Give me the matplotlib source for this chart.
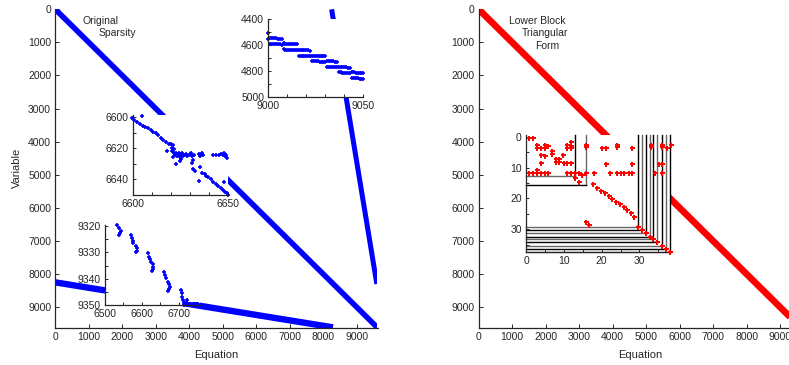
import matplotlib
matplotlib.use('Agg')
import matplotlib.pyplot as plt

plt.rcParams['font.family'] = ['Liberation Sans', 'DejaVu Sans']
TXT = '#262626'
plt.rcParams['text.color'] = TXT
plt.rcParams['axes.edgecolor'] = TXT
plt.rcParams['xtick.color'] = TXT
plt.rcParams['ytick.color'] = TXT

# ---------------- data ----------------
n_max = 9620
main_ticks = [0, 1000, 2000, 3000, 4000, 5000, 6000, 7000, 8000, 9000]

# Original sparsity: dense bands (start/end in equation, variable)
orig_x0 = [0, 0, 8250]
orig_y0 = [0, 8250, 0]
orig_x1 = [9610, 8290, 9600]
orig_y1 = [9610, 9610, 8300]
orig_lw = [4.0, 4.6, 3.6]

# Lower block triangular form band
lbt_x0 = [0]
lbt_y0 = [0]
lbt_x1 = [9620]
lbt_y1 = [9620]

# inset: equations 9000-9050, variables 4400-5000
tr_x = [9000, 9000,
        9001, 9002, 9003, 9004, 9005, 9006, 9007,
        9001, 9002, 9003, 9004, 9005, 9006, 9007,
        9008, 9009, 9010, 9011, 9012, 9013, 9014, 9015,
        9008, 9009, 9010, 9011, 9012, 9013, 9014, 9015,
        9016, 9017, 9018, 9019, 9020, 9021, 9022,
        9016, 9017, 9018, 9019, 9020, 9021, 9022,
        9023, 9024, 9025, 9026, 9027, 9028, 9029, 9030,
        9023, 9024, 9025, 9026, 9027, 9028, 9029, 9030,
        9031, 9032, 9033, 9034, 9035, 9036,
        9031, 9032, 9033, 9034, 9035, 9036,
        9037, 9038, 9039, 9040, 9041, 9042, 9043,
        9037, 9038, 9039, 9040, 9041, 9042, 9043,
        9044, 9045, 9046, 9047, 9048, 9049, 9050,
        9044, 9045, 9046, 9047, 9048, 9049, 9050]
tr_y = [4512, 4558,
        4548, 4549, 4550, 4551, 4553, 4554, 4555,
        4592, 4593, 4594, 4595, 4597, 4598, 4599,
        4590, 4591, 4592, 4594, 4595, 4596, 4597, 4598,
        4636, 4637, 4638, 4640, 4641, 4642, 4643, 4644,
        4638, 4639, 4640, 4641, 4642, 4643, 4645,
        4684, 4685, 4686, 4687, 4688, 4689, 4690,
        4684, 4685, 4686, 4686, 4687, 4688, 4689, 4690,
        4726, 4727, 4728, 4729, 4730, 4731, 4732, 4733,
        4726, 4727, 4728, 4729, 4730, 4731,
        4770, 4771, 4772, 4773, 4774, 4775,
        4770, 4771, 4772, 4773, 4774, 4776, 4777,
        4812, 4813, 4814, 4815, 4816, 4818, 4819,
        4812, 4813, 4814, 4815, 4816, 4817, 4818,
        4856, 4857, 4858, 4859, 4860, 4861, 4862]

# inset: equations 6600-6650, variables 6600-6650
mid_x = [6599.5, 6600.7, 6602.1, 6603.8, 6605.2, 6606.4, 6608.1, 6609.4, 6610.7,
         6612.1, 6613.3, 6615.0, 6615.9, 6617.3, 6619.0, 6620.2, 6621.1,
         6604.7, 6620.5, 6621.5, 6620.8, 6621.8, 6622.0, 6621.0, 6618.1,
         6622.5, 6623.0, 6623.5, 6624.0, 6624.5, 6625.0, 6626.0, 6626.5, 6627.0,
         6628.0, 6628.5, 6629.5, 6630.5, 6631.0, 6632.0,
         6634.5, 6635.0, 6635.5, 6636.5, 6637.0,
         6642.0, 6643.5, 6645.0, 6646.0, 6647.0, 6648.0, 6648.5, 6649.0, 6649.5,
         6622.6, 6624.5, 6625.5, 6630.8, 6631.5,
         6631.7, 6632.6, 6635.2, 6636.1, 6637.8, 6638.3, 6639.6, 6640.8, 6642.2,
         6643.6, 6644.8, 6646.0, 6647.1, 6648.3, 6649.2, 6650.0,
         6634.7, 6647.8]
mid_y = [6600.7, 6601.8, 6602.8, 6604.3, 6605.4, 6606.0, 6607.1, 6608.2, 6609.3,
         6610.3, 6611.4, 6613.5, 6614.6, 6615.7, 6617.2, 6617.4, 6617.9,
         6599.0, 6619.5, 6620.5, 6622.0, 6623.0, 6624.5, 6625.5, 6621.5,
         6623.0, 6625.0, 6624.0, 6623.0, 6625.5, 6624.0, 6623.0, 6625.0, 6624.0,
         6623.5, 6625.0, 6624.0, 6623.0, 6625.0, 6624.0,
         6623.5, 6625.0, 6624.0, 6623.0, 6624.5,
         6624.0, 6624.0, 6624.0, 6623.5, 6624.0, 6623.0, 6625.0, 6624.0, 6626.0,
         6630.1, 6628.5, 6627.0, 6629.3, 6627.5,
         6633.4, 6634.4, 6631.9, 6635.7, 6636.6, 6637.9, 6638.7, 6640.0, 6641.5,
         6643.0, 6644.3, 6645.8, 6646.9, 6648.0, 6649.0, 6650.0,
         6641.1, 6641.5]

# inset: equations 6500-6750, variables 9320-9350
bl_x = [6532.7, 6539.8, 6543.4, 6541.6, 6538.9,
        6571.1, 6573.0, 6575.6, 6577.4, 6584.6, 6588.2, 6586.4, 6583.7,
        6616.0, 6619.5, 6622.1, 6624.8, 6629.4, 6631.0, 6629.4, 6627.5,
        6660.6, 6663.3, 6666.0, 6669.6, 6674.0, 6675.8, 6674.0, 6671.3,
        6705.4, 6707.2, 6709.0, 6711.7, 6720.7, 6722.3,
        6712, 6715, 6718, 6721, 6724, 6727, 6730, 6733, 6736, 6739, 6742, 6745, 6748, 6751, 6754,
        6714, 6720, 6726, 6732, 6738, 6744, 6750]
bl_y = [9319.6, 9320.9, 9321.8, 9322.8, 9323.3,
        9323.4, 9324.7, 9325.6, 9326.3, 9327.6, 9328.5, 9329.4, 9330.0,
        9330.4, 9331.7, 9332.7, 9333.6, 9334.4, 9335.5, 9336.5, 9337.1,
        9337.4, 9338.6, 9339.9, 9341.2, 9342.1, 9343.1, 9344.0, 9344.6,
        9344.3, 9345.6, 9346.9, 9348.1, 9348.1, 9349.2,
        9349.4, 9349.4, 9349.5, 9349.5, 9349.5, 9349.6, 9349.6, 9349.6, 9349.7, 9349.7, 9349.7, 9349.8, 9349.8, 9349.8, 9349.9,
        9349.9, 9349.9, 9350.0, 9350.0, 9350.0, 9350.1, 9350.1]

# inset of block triangular form (38 x 38 matrix)
blk_x = [0.9, 1.9, 2.8, 2.8, 3.9, 5.0, 5.0, 5.9, 3.9, 5.0, 6.8, 6.8,
         8.0, 8.0, 8.7, 8.7, 9.8, 3.9, 10.9, 10.9, 11.8, 11.8, 11.8,
         10.1, 10.9, 11.8, 2.8,
         0.9, 1.9, 2.8, 3.9, 5.0, 5.9, 10.8, 11.8, 12.9, 14.0, 15.9, 17.9,
         22.2, 24.0, 25.0, 26.0, 27.2, 28.1, 34.1, 36.1,
         12.9, 14.0, 14.9, 15.9, 15.9,
         20.2, 21.2, 24.0, 24.0, 28.0, 21.2, 28.0, 33.1, 33.1, 36.1, 36.1,
         37.2, 38.3, 35.1, 36.1,
         17.8, 18.9, 19.9, 20.8, 21.9, 22.7, 23.8, 24.8, 25.8, 26.7, 27.7, 28.6,
         15.9, 16.6,
         29.7, 30.8, 31.7, 32.7, 33.7, 34.7, 35.9, 36.9, 38.0]
blk_y = [0.3, 0.3, 2.5, 3.6, 3.6, 2.5, 3.6, 3.0, 5.8, 6.3, 4.7, 5.5,
         7.2, 8.3, 7.2, 8.3, 5.8, 8.5, 2.5, 3.6, 1.7, 2.8, 3.6,
         8.5, 8.5, 8.5, 10.7,
         11.6, 11.6, 11.6, 11.6, 11.6, 11.6, 11.6, 11.6, 11.6, 11.6, 11.6, 11.6,
         11.6, 11.6, 11.6, 11.6, 11.6, 11.6, 11.6, 11.6,
         13.5, 14.6, 12.3, 2.5, 3.3,
         3.6, 3.6, 2.6, 3.4, 3.6, 8.7, 8.7, 2.6, 3.4, 2.6, 3.4,
         3.6, 2.6, 8.7, 8.7,
         15.3, 16.5, 17.5, 18.3, 19.2, 20.1, 21.0, 21.9, 22.8, 23.7, 24.8, 25.9,
         27.8, 28.5,
         29.3, 30.4, 31.3, 32.4, 33.3, 34.2, 35.3, 36.5, 37.5]
# block boundary corners (column, row)
corner_x = [12.9, 16.0, 29.7, 30.8, 31.7, 32.7, 33.7, 34.7, 35.9, 36.9, 38.0]
corner_y = [12.6, 15.6, 29.3, 30.4, 31.3, 32.4, 33.3, 34.2, 35.3, 36.5, 37.5]

# ---------------- figure ----------------
W, H = 789, 365
fig = plt.figure(figsize=(W / 100, H / 100), dpi=100)


def px_axes(l, t, r, b):
    return fig.add_axes([l / W, 1 - b / H, (r - l) / W, (b - t) / H])


def style(ax, fs=7.5, tl=2.5):
    for s in ['top', 'right']:
        ax.spines[s].set_visible(False)
    for s in ['left', 'bottom']:
        ax.spines[s].set_linewidth(0.9)
    ax.tick_params(direction='in', length=tl, width=0.7, labelsize=fs, pad=3)


def set_ticks(ax, axis, ticks, labeled):
    labs = [str(t) if t in labeled else '' for t in ticks]
    if axis == 'x':
        ax.set_xticks(ticks)
        ax.set_xticklabels(labs)
    else:
        ax.set_yticks(ticks)
        ax.set_yticklabels(labs)


# main axes
axL = px_axes(55.3, 9.3, 55.3 + 322.2, 9.3 + 318.4)
axR = px_axes(478.7, 9.3, 478.7 + 322.2, 9.3 + 318.4)
for ax in (axL, axR):
    style(ax, tl=3)
    ax.set_xlim(0, n_max)
    ax.set_ylim(n_max, 0)
    ax.set_xticks(main_ticks)
    ax.set_yticks(main_ticks)

for i in range(len(orig_x0)):
    axL.plot([orig_x0[i], orig_x1[i]], [orig_y0[i], orig_y1[i]], color='#0000ff',
             lw=orig_lw[i], solid_capstyle='butt')
for i in range(len(lbt_x0)):
    axR.plot([lbt_x0[i], lbt_x1[i]], [lbt_y0[i], lbt_y1[i]], color='#ff0000',
             lw=4.8, solid_capstyle='butt')

# insets
mk = dict(marker='+', ls='none', ms=2.8, mew=1.2, clip_on=False)

ax1 = px_axes(268.3, 18.7, 363.3, 96.7)
style(ax1)
ax1.plot(tr_x, tr_y, color='#0000ff', **mk)
ax1.set_xlim(9000, 9050)
ax1.set_ylim(5000, 4400)
set_ticks(ax1, 'x', [9000, 9010, 9020, 9030, 9040, 9050], [9000, 9050])
set_ticks(ax1, 'y', [4400, 4500, 4600, 4700, 4800, 4900, 5000], [4400, 4600, 4800, 5000])

ax2 = px_axes(132.7, 115.0, 228.3, 194.8)
style(ax2)
ax2.plot(mid_x, mid_y, color='#0000ff', **mk)
ax2.set_xlim(6600, 6650)
ax2.set_ylim(6650, 6598.5)
set_ticks(ax2, 'x', [6600, 6610, 6620, 6630, 6640, 6650], [6600, 6650])
set_ticks(ax2, 'y', [6600, 6610, 6620, 6630, 6640, 6650], [6600, 6620, 6640])

ax3 = px_axes(104.5, 225.0, 200.0, 305.0)
style(ax3)
ax3.plot(bl_x, bl_y, color='#0000ff', **mk)
ax3.set_xlim(6500, 6756)
ax3.set_ylim(9350, 9319.6)
set_ticks(ax3, 'x', [6500, 6550, 6600, 6650, 6700, 6750], [6500, 6600, 6700])
set_ticks(ax3, 'y', [9320, 9325, 9330, 9335, 9340, 9345, 9350], [9320, 9330, 9340, 9350])

ax4 = px_axes(526.0, 134.8, 670.8, 252.3)
style(ax4)
ax4.set_xlim(0, 38.3)
ax4.set_ylim(37.5, -0.7)
for i in range(len(corner_x)):
    cv = 'black' if i % 2 == 0 else '#666666'
    ch = '#666666' if i % 2 == 0 else 'black'
    ax4.plot([corner_x[i], corner_x[i]], [-0.7, corner_y[i]], color=cv, lw=1.0, clip_on=False)
    ax4.plot([0, corner_x[i]], [corner_y[i], corner_y[i]], color=ch, lw=1.0, clip_on=False)
ax4.plot(blk_x, blk_y, color='#ff0000', marker='+', ls='none', ms=3.6, mew=1.4,
         clip_on=False, zorder=5)
set_ticks(ax4, 'x', [0, 5, 10, 15, 20, 25, 30, 35], [0, 10, 20, 30])
set_ticks(ax4, 'y', [0, 5, 10, 15, 20, 25, 30, 35], [0, 10, 20, 30])


# text
def ftext(x, y, s, **kw):
    fig.text(x / W, 1 - y / H, s, **kw)


ftext(82.7, 24, 'Original', fontsize=7.5, va='baseline')
ftext(99, 36.5, 'Sparsity', fontsize=7.5, va='baseline')
ftext(509, 23.5, 'Lower Block', fontsize=7.5, va='baseline')
ftext(522.3, 36.5, 'Triangular', fontsize=7.5, va='baseline')
ftext(535, 49.3, 'Form', fontsize=7.5, va='baseline')
ftext(216.4, 357.7, 'Equation', fontsize=8, ha='center', va='baseline')
ftext(639.8, 357.7, 'Equation', fontsize=8, ha='center', va='baseline')
ftext(17, 167.5, 'Variable', fontsize=8, ha='center', va='center', rotation=90)

fig.savefig('out.png', dpi=100)
